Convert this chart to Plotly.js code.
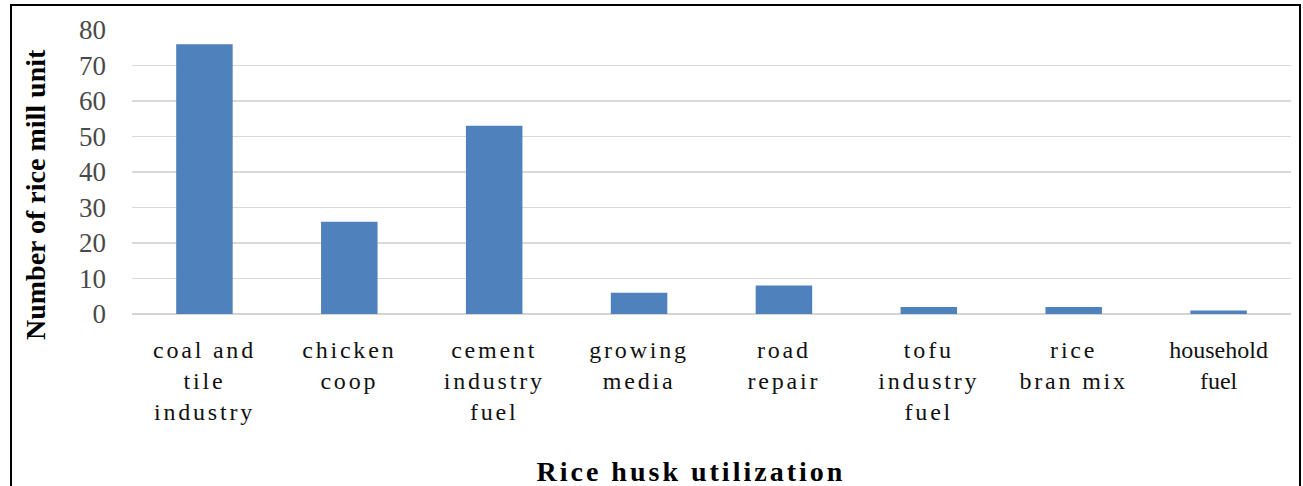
<!DOCTYPE html>
<html>
<head>
<meta charset="utf-8">
<script src="https://cdn.plot.ly/plotly-3.0.1.min.js"></script>
<style>
  html, body { margin: 0; padding: 0; background: #fff; }
  #chart { width: 1303px; height: 486px; }
  .xtick text { letter-spacing: 2.8px; }
  .xtick:last-of-type text { letter-spacing: 0px; }
  g.annotation[data-index="1"] text { letter-spacing: 3px; }
</style>
</head>
<body>
<div id="chart"></div>
<script>
const categories = [
  "coal and<br>tile<br>industry",
  "chicken<br>coop",
  "cement<br>industry<br>fuel",
  "growing<br>media",
  "road<br>repair",
  "tofu<br>industry<br>fuel",
  "rice<br>bran mix",
  "household<br>fuel"
];
const riceMillUnits = [76, 26, 53, 6, 8, 2, 2, 1];
const yTickValues = [0, 10, 20, 30, 40, 50, 60, 70, 80];
const yAxisTitle = "Number of rice mill unit";
const xAxisTitle = "Rice husk utilization";

const serif = "'Liberation Serif', 'Times New Roman', serif";

const data = [{
  type: "bar",
  x: categories,
  y: riceMillUnits,
  marker: { color: "#4F81BD" },
  hoverinfo: "x+y"
}];

const layout = {
  width: 1303,
  height: 486,
  margin: { l: 132, r: 12, t: 30, b: 172 },
  paper_bgcolor: "#ffffff",
  plot_bgcolor: "#ffffff",
  showlegend: false,
  bargap: 0.61,
  xaxis: {
    type: "category",
    showgrid: false,
    showline: false,
    zeroline: false,
    ticks: "",
    ticklabelstandoff: 19,
    tickfont: { family: serif, size: 24, color: "#111111" },
    fixedrange: true
  },
  yaxis: {
    range: [0, 80],
    tickvals: yTickValues,
    showgrid: true,
    gridcolor: "#d9d9d9",
    gridwidth: 1.5,
    zeroline: true,
    zerolinecolor: "#d4d4d4",
    zerolinewidth: 2,
    showline: false,
    ticks: "",
    ticklabelstandoff: 25,
    tickfont: { family: serif, size: 27, color: "#4a4a4a" },
    fixedrange: true
  },
  annotations: [
    {
      text: "<b>" + yAxisTitle + "</b>",
      xref: "paper", yref: "paper",
      x: (35 - 132) / 1159, y: (314 - 194) / 284,
      xanchor: "center", yanchor: "middle",
      textangle: -90,
      showarrow: false,
      font: { family: serif, size: 28, color: "#000000" }
    },
    {
      text: "<b>" + xAxisTitle + "</b>",
      xref: "paper", yref: "paper",
      x: (691 - 132) / 1159, y: (314 - 471) / 284,
      xanchor: "center", yanchor: "middle",
      showarrow: false,
      font: { family: serif, size: 28, color: "#000000" }
    }
  ],
  shapes: [{
    type: "rect",
    xref: "paper", yref: "paper",
    x0: (11 - 132) / 1159, x1: (1300 - 132) / 1159,
    y0: (314 - 520) / 284, y1: (314 - 5) / 284,
    line: { color: "#000000", width: 2 },
    fillcolor: "rgba(0,0,0,0)"
  }]
};

Plotly.newPlot("chart", data, layout, { displayModeBar: false, staticPlot: true });
</script>
</body>
</html>
